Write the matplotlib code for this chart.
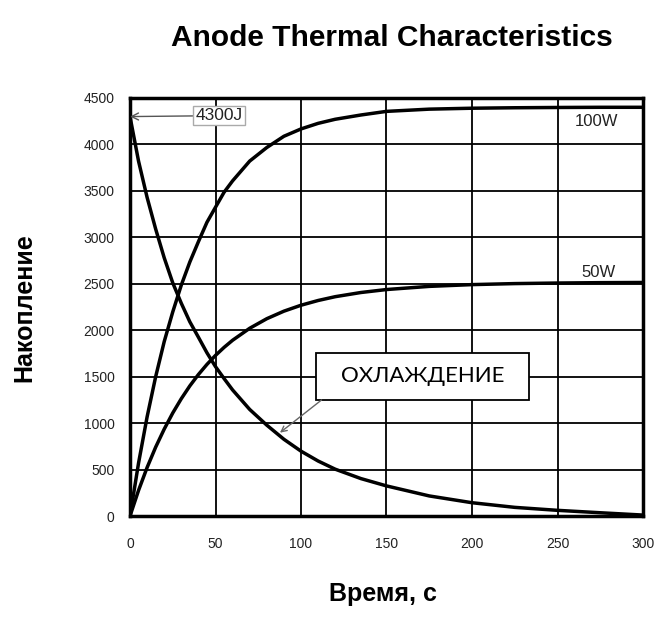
import matplotlib.pyplot as plt
from matplotlib.patches import Rectangle

# time axis, s
t = [0, 5, 10, 15, 20, 25, 30, 35, 40, 45, 50, 55, 60, 70, 80, 90, 100,
     110, 120, 135, 150, 175, 200, 225, 250, 275, 300]

# heat storage, J
heat_100w = [0, 570, 1067, 1499, 1877, 2197, 2486, 2735, 2953, 3162, 3324, 3485,
             3608, 3821, 3967, 4088, 4167, 4227, 4271, 4317, 4356, 4380, 4390,
             4395, 4398, 4400, 4400]
heat_50w = [0, 276, 522, 741, 935, 1109, 1263, 1401, 1523, 1632, 1729, 1815,
            1892, 2021, 2124, 2205, 2269, 2320, 2361, 2406, 2438, 2472, 2491,
            2502, 2508, 2512, 2514]
cooling = [4300, 3820, 3430, 3090, 2780, 2510, 2290, 2090, 1925, 1757, 1608,
           1480, 1357, 1147, 978, 826, 698, 592, 504, 403, 324, 216, 143, 93,
           61, 35, 10]

x_ticks = [0, 50, 100, 150, 200, 250, 300]
y_ticks = [0, 500, 1000, 1500, 2000, 2500, 3000, 3500, 4000, 4500]

plt.rcParams['font.family'] = ['Liberation Sans', 'DejaVu Sans']

fig = plt.figure(figsize=(6.6, 6.19), dpi=100)
ax = fig.add_axes([130 / 660, 1 - 516 / 619, 513 / 660, 418 / 619])

for series in (heat_100w, heat_50w, cooling):
    ax.plot(t, series, color='black', lw=2.5, solid_capstyle='butt', zorder=3)

ax.set_xlim(0, 300)
ax.set_ylim(0, 4500)
ax.set_xticks(x_ticks)
ax.set_yticks(y_ticks)
ax.grid(True, color='black', lw=1.3)
ax.set_axisbelow(True)
ax.tick_params(length=0, labelsize=10, colors='#222222')
ax.tick_params(axis='x', pad=15)
ax.tick_params(axis='y', pad=11)
for s in ax.spines.values():
    s.set_linewidth(2.5)

# labels on the curves
ax.text(273, 4250, '100W', fontsize=12, ha='center', va='center', color='#222222')
ax.text(274, 2625, '50W', fontsize=12, ha='center', va='center', color='#222222')

ax.annotate('4300J', xy=(0, 4300), xytext=(52, 4310), fontsize=12.5,
            ha='center', va='center', color='#222222',
            bbox=dict(boxstyle='square,pad=0.12', fc='white', ec='#aaaaaa', lw=1),
            arrowprops=dict(arrowstyle='->', color='#555555', lw=1,
                            shrinkA=0, shrinkB=0), zorder=5)

# callout box for the cooling curve
ax.add_patch(Rectangle((108.8, 1249), 124.5, 506, fc='white', ec='black',
                       lw=1.3, zorder=5))
ax.text(171, 1502, 'ОХЛАЖДЕНИЕ', fontsize=16, family=['Lato', 'DejaVu Sans'],
        ha='center', va='center', color='black', zorder=6)
ax.annotate('', xy=(87.7, 897), xytext=(112, 1249),
            arrowprops=dict(arrowstyle='->', color='#666666', lw=1,
                            shrinkA=0, shrinkB=0), zorder=5)

fig.text(0.594, 0.939, 'Anode Thermal Characteristics', fontsize=21.5,
         fontweight='bold', ha='center', va='center')
fig.text(383 / 660, 1 - 594 / 619, 'Время, с', fontsize=18, fontweight='bold',
         ha='center', va='center')
fig.text(24 / 660, 1 - 308 / 619, 'Накопление', fontsize=18, fontweight='bold',
         ha='center', va='center', rotation=90)

fig.savefig('out.png', dpi=100)
